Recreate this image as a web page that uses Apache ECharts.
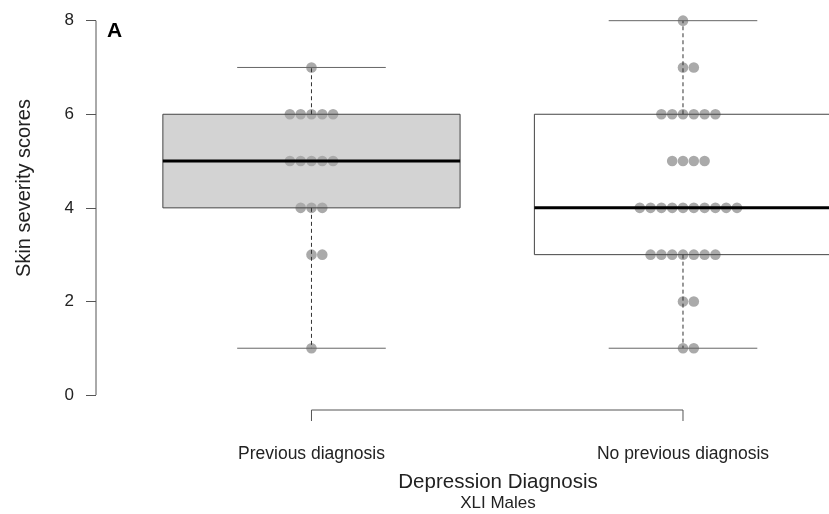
<!DOCTYPE html>
<html>
<head>
<meta charset="utf-8">
<script src="https://cdn.jsdelivr.net/npm/echarts@6/dist/echarts.min.js"></script>
<style>
  html, body { margin: 0; padding: 0; background: #fff; }
  #chart { width: 829px; height: 514px; }
</style>
</head>
<body>
<div id="chart"></div>
<script>
// Skin severity scores of XLI males, by previous depression diagnosis
const groups = ['Previous diagnosis', 'No previous diagnosis'];
const previousScores = [7, 6, 6, 6, 6, 6, 5, 5, 5, 5, 5, 4, 4, 4, 3, 3, 1];
const noPreviousScores = [8, 7, 7, 6, 6, 6, 6, 6, 6, 5, 5, 5, 5,
  4, 4, 4, 4, 4, 4, 4, 4, 4, 4, 3, 3, 3, 3, 3, 3, 3, 2, 2, 1, 1];
const yTicks = [0, 2, 4, 6, 8];
const boxFills = ['#d3d3d3', '#ffffff'];

const FONT = 'Liberation Sans, Arial, Helvetica, sans-serif';

// Tukey five-number summary with whiskers clipped to 1.5 * IQR
function boxStats(values) {
  const s = values.slice().sort((a, b) => a - b);
  const n = s.length;
  const n4 = Math.floor((n + 3) / 2) / 2;
  const idx = [1, n4, (n + 1) / 2, n + 1 - n4, n];
  const q = idx.map(d => 0.5 * (s[Math.floor(d) - 1] + s[Math.ceil(d) - 1]));
  const iqr = q[3] - q[1];
  const lo = s.find(v => v >= q[1] - 1.5 * iqr);
  const hi = s.slice().reverse().find(v => v <= q[3] + 1.5 * iqr);
  return [lo, q[1], q[2], q[3], hi];
}

const allScores = [previousScores, noPreviousScores];
const boxData = allScores.map((vals, i) => [i + 1].concat(boxStats(vals), [i]));

// Swarm rows: equal scores are laid side by side around the group centre
const dotData = [];
allScores.forEach((vals, gi) => {
  const counts = {};
  vals.forEach(v => { counts[v] = (counts[v] || 0) + 1; });
  const seen = {};
  vals.forEach(v => {
    const k = seen[v] || 0;
    seen[v] = k + 1;
    const slot = k - Math.floor((counts[v] - 1) / 2);
    dotData.push([gi + 1, v, slot]);
  });
});

// the plotting region runs past the right edge of the page
const X_MIN = 0.42, X_MAX = 2.393;
const Y_MIN = -0.32, Y_MAX = 8.32;
const DOT_STEP = 10.8;

const chart = echarts.init(document.getElementById('chart'), null, { renderer: 'canvas' });

chart.setOption({
  animation: false,
  backgroundColor: '#ffffff',
  grid: { left: 96, top: 5.7, right: 0, height: 404.3, containLabel: false },
  xAxis: {
    type: 'value', min: X_MIN, max: X_MAX,
    splitLine: { show: false },
    axisLine: { show: false },
    axisTick: { show: false },
    axisLabel: {
      customValues: [1, 2], margin: 35,
      formatter: v => groups[Math.round(v) - 1],
      fontFamily: FONT, fontSize: 17.5, color: '#222'
    }
  },
  yAxis: {
    type: 'value', min: Y_MIN, max: Y_MAX,
    splitLine: { show: false },
    axisLine: { show: false },
    axisTick: { show: true, customValues: yTicks, length: 10, lineStyle: { color: '#555', width: 1 } },
    axisLabel: {
      customValues: yTicks, margin: 22,
      fontFamily: FONT, fontSize: 17, color: '#222'
    }
  },
  graphic: [
    { type: 'text', x: 24, y: 188, rotation: Math.PI / 2,
      style: { text: 'Skin severity scores', font: '20px ' + FONT, fill: '#222', textAlign: 'center', textVerticalAlign: 'middle' } },
    { type: 'text', x: 498, y: 482,
      style: { text: 'Depression Diagnosis', font: '20.5px ' + FONT, fill: '#222', textAlign: 'center', textVerticalAlign: 'middle' } },
    { type: 'text', x: 498, y: 503,
      style: { text: 'XLI Males', font: '17px ' + FONT, fill: '#222', textAlign: 'center', textVerticalAlign: 'middle' } },
    { type: 'text', x: 107, y: 31,
      style: { text: 'A', font: 'bold 21px ' + FONT, fill: '#000', textAlign: 'left', textVerticalAlign: 'middle' } }
  ],
  series: [
    {
      // box fills
      type: 'custom', z: 1, clip: false,
      data: boxData,
      renderItem: (params, api) => {
        const x = api.value(0);
        const half = api.size([0.4, 0])[0];
        const c = api.coord([x, api.value(4)]);
        const c1 = api.coord([x, api.value(2)]);
        return {
          type: 'rect',
          shape: { x: c[0] - half, y: c[1], width: 2 * half, height: c1[1] - c[1] },
          style: { fill: boxFills[api.value(6)], stroke: null }
        };
      }
    },
    {
      // individual scores
      type: 'custom', z: 2, clip: false,
      data: dotData,
      renderItem: (params, api) => {
        const c = api.coord([api.value(0), api.value(1)]);
        return {
          type: 'circle',
          shape: { cx: c[0] + api.value(2) * DOT_STEP, cy: c[1], r: 5.3 },
          style: { fill: '#aaaaaa' }
        };
      }
    },
    {
      // whiskers, caps, box outline and median
      type: 'custom', z: 3, clip: false,
      data: boxData,
      renderItem: (params, api) => {
        const x = api.value(0);
        const half = api.size([0.4, 0])[0];
        const lo = api.coord([x, api.value(1)]);
        const q1 = api.coord([x, api.value(2)]);
        const md = api.coord([x, api.value(3)]);
        const q3 = api.coord([x, api.value(4)]);
        const hi = api.coord([x, api.value(5)]);
        const cx = lo[0];
        const cap = half / 2;
        const line = (x1, y1, x2, y2, style) => ({ type: 'line', shape: { x1, y1, x2, y2 }, style });
        const dashed = { stroke: '#333', lineWidth: 1, lineDash: [4, 3] };
        return {
          type: 'group',
          children: [
            line(cx, q1[1], cx, lo[1], dashed),
            line(cx, q3[1], cx, hi[1], dashed),
            line(cx - cap, lo[1], cx + cap, lo[1], { stroke: '#666', lineWidth: 1 }),
            line(cx - cap, hi[1], cx + cap, hi[1], { stroke: '#666', lineWidth: 1 }),
            { type: 'rect', shape: { x: cx - half, y: q3[1], width: 2 * half, height: q1[1] - q3[1] },
              style: { fill: null, stroke: '#444', lineWidth: 1 } },
            line(cx - half, md[1], cx + half, md[1], { stroke: '#000', lineWidth: 3 })
          ]
        };
      }
    },
    {
      // axis lines: y axis over the tick range, x axis bracket between groups
      type: 'custom', z: 3, clip: false,
      data: [[0]],
      renderItem: (params, api) => {
        const y0 = api.coord([X_MIN, yTicks[0]]);
        const y1 = api.coord([X_MIN, yTicks[yTicks.length - 1]]);
        const b0 = api.coord([1, Y_MIN]);
        const b1 = api.coord([2, Y_MIN]);
        const st = { stroke: '#555', lineWidth: 1 };
        const tick = 11;
        return {
          type: 'group',
          children: [
            { type: 'line', shape: { x1: y0[0], y1: y0[1], x2: y1[0], y2: y1[1] }, style: st },
            { type: 'line', shape: { x1: b0[0], y1: b0[1], x2: b1[0], y2: b1[1] }, style: st },
            { type: 'line', shape: { x1: b0[0], y1: b0[1], x2: b0[0], y2: b0[1] + tick }, style: st },
            { type: 'line', shape: { x1: b1[0], y1: b1[1], x2: b1[0], y2: b1[1] + tick }, style: st }
          ]
        };
      }
    }
  ]
});
</script>
</body>
</html>
